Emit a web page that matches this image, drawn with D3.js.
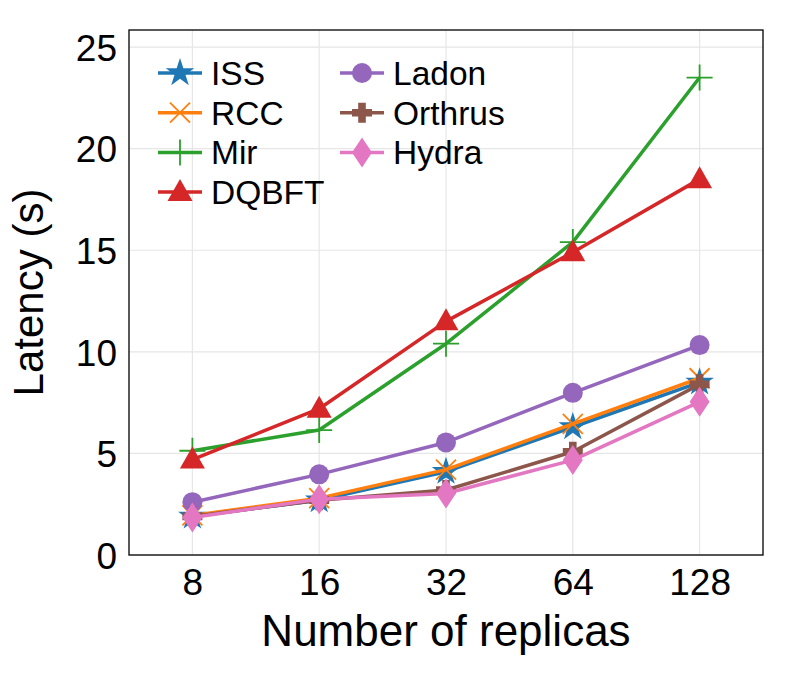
<!DOCTYPE html>
<html>
<head>
<meta charset="utf-8">
<script src="https://cdn.jsdelivr.net/npm/d3@7"></script>
<style>
  body { margin: 0; background: #fff; }
  svg { font-family: "Liberation Sans", Arial, sans-serif; }
</style>
</head>
<body>
<script>
const replicas = ["8", "16", "32", "64", "128"];
const yTicks = [0, 5, 10, 15, 20, 25];

const issValues = [1.9, 2.7, 4.1, 6.3, 8.5];
const rccValues = [1.95, 2.8, 4.2, 6.45, 8.7];
const mirValues = [5.13, 6.15, 10.4, 15.4, 23.5];
const dqbftValues = [4.7, 7.2, 11.5, 14.9, 18.5];
const ladonValues = [2.6, 3.97, 5.54, 7.98, 10.33];
const orthrusValues = [1.9, 2.7, 3.2, 5.08, 8.4];
const hydraValues = [1.85, 2.75, 3.03, 4.67, 7.54];

const series = [
  { name: "ISS", values: issValues, color: "#1f77b4", marker: "star" },
  { name: "RCC", values: rccValues, color: "#ff7f0e", marker: "x" },
  { name: "Mir", values: mirValues, color: "#2ca02c", marker: "plus" },
  { name: "DQBFT", values: dqbftValues, color: "#d62728", marker: "triangle" },
  { name: "Ladon", values: ladonValues, color: "#9467bd", marker: "circle" },
  { name: "Orthrus", values: orthrusValues, color: "#8c564b", marker: "fatplus" },
  { name: "Hydra", values: hydraValues, color: "#e377c2", marker: "diamond" }
];

const w = 793, h = 674;
const plotLeft = 129, plotRight = 763, plotTop = 30, plotBottom = 555;

const svg = d3.select("body").append("svg")
  .attr("width", w)
  .attr("height", h);

const xScale = d3.scalePoint()
  .domain(replicas)
  .range([plotLeft, plotRight])
  .padding(0.5);

const yScale = d3.scaleLinear()
  .domain([0, 25.84])
  .range([plotBottom, plotTop]);

// grid
svg.append("g")
  .selectAll("line")
  .data(replicas)
  .enter()
  .append("line")
  .attr("x1", d => xScale(d))
  .attr("x2", d => xScale(d))
  .attr("y1", plotTop)
  .attr("y2", plotBottom)
  .attr("stroke", "#e6e6e6")
  .attr("stroke-width", 1.2);

svg.append("g")
  .selectAll("line")
  .data(yTicks)
  .enter()
  .append("line")
  .attr("x1", plotLeft)
  .attr("x2", plotRight)
  .attr("y1", d => yScale(d))
  .attr("y2", d => yScale(d))
  .attr("stroke", "#e6e6e6")
  .attr("stroke-width", 1.2);

// axes (labels only, no tick marks)
const xAxis = d3.axisBottom(xScale).tickSize(0).tickPadding(14);
const yAxis = d3.axisLeft(yScale).tickValues(yTicks).tickSize(0).tickPadding(12);

const gx = svg.append("g")
  .attr("transform", `translate(0, ${plotBottom})`)
  .call(xAxis);
const gy = svg.append("g")
  .attr("transform", `translate(${plotLeft}, 0)`)
  .call(yAxis);
[gx, gy].forEach(g => {
  g.select(".domain").remove();
  g.selectAll("text")
    .style("font-size", "37px")
    .style("font-family", "'Liberation Sans', Arial, sans-serif")
    .attr("fill", "#000");
});
gx.selectAll("text").attr("dy", "0.71em");
gy.selectAll("text").attr("dy", "0.36em");

// axis titles
svg.append("text")
  .attr("x", (plotLeft + plotRight) / 2)
  .attr("y", 646)
  .attr("text-anchor", "middle")
  .style("font-size", "44px")
  .text("Number of replicas");

svg.append("text")
  .attr("transform", "rotate(-90)")
  .attr("x", -(plotTop + plotBottom) / 2)
  .attr("y", 43)
  .attr("text-anchor", "middle")
  .style("font-size", "42px")
  .text("Latency (s)");

// marker drawing
function starPath(r) {
  const pts = [];
  const ri = r * 0.381966;
  for (let i = 0; i < 10; i++) {
    const a = -Math.PI / 2 + i * Math.PI / 5;
    const rr = i % 2 === 0 ? r : ri;
    pts.push([rr * Math.cos(a), rr * Math.sin(a)]);
  }
  return "M" + pts.map(p => p.join(",")).join("L") + "Z";
}

function drawMarker(g, type, color, x, y) {
  const m = g.append("g").attr("transform", `translate(${x},${y})`);
  if (type === "star") {
    m.append("path").attr("d", starPath(15)).attr("fill", color);
  } else if (type === "x") {
    m.append("path").attr("d", "M-10,-10L10,10M-10,10L10,-10")
      .attr("stroke", color).attr("stroke-width", 1.8).attr("fill", "none");
  } else if (type === "plus") {
    m.append("path").attr("d", "M-13,0L13,0M0,-13L0,13")
      .attr("stroke", color).attr("stroke-width", 1.8).attr("fill", "none");
  } else if (type === "triangle") {
    m.append("path").attr("d", "M0,-13L12.5,9L-12.5,9Z").attr("fill", color);
  } else if (type === "circle") {
    m.append("circle").attr("r", 10).attr("fill", color);
  } else if (type === "fatplus") {
    const a = 10, b = 3.8;
    m.append("path")
      .attr("d", `M${-b},${-a}L${b},${-a}L${b},${-b}L${a},${-b}L${a},${b}L${b},${b}L${b},${a}L${-b},${a}L${-b},${b}L${-a},${b}L${-a},${-b}L${-b},${-b}Z`)
      .attr("fill", color);
  } else if (type === "diamond") {
    m.append("path").attr("d", "M0,-15L10,0L0,15L-10,0Z").attr("fill", color);
  }
}

const line = d3.line()
  .x((d, i) => xScale(replicas[i]))
  .y(d => yScale(d));

series.forEach(s => {
  const g = svg.append("g");
  g.append("path")
    .attr("d", line(s.values))
    .attr("fill", "none")
    .attr("stroke", s.color)
    .attr("stroke-width", 3.5)
    .attr("stroke-linejoin", "round");
  s.values.forEach((v, i) => drawMarker(g, s.marker, s.color, xScale(replicas[i]), yScale(v)));
});

// frame
svg.append("rect")
  .attr("x", plotLeft)
  .attr("y", plotTop)
  .attr("width", plotRight - plotLeft)
  .attr("height", plotBottom - plotTop)
  .attr("fill", "none")
  .attr("stroke", "#000")
  .attr("stroke-width", 1.3);

// legend
const legend = svg.append("g");
series.forEach((s, i) => {
  const col = i < 4 ? 0 : 1;
  const row = i < 4 ? i : i - 4;
  const lx = col === 0 ? 158 : 340;
  const ly = 73 + row * 39.7;
  const g = legend.append("g");
  g.append("line")
    .attr("x1", lx).attr("x2", lx + 44)
    .attr("y1", ly).attr("y2", ly)
    .attr("stroke", s.color)
    .attr("stroke-width", 3.5);
  drawMarker(g, s.marker, s.color, lx + 22, ly);
  g.append("text")
    .attr("x", lx + 53)
    .attr("y", ly)
    .attr("dy", "0.36em")
    .style("font-size", "33.5px")
    .text(s.name);
});
</script>
</body>
</html>
